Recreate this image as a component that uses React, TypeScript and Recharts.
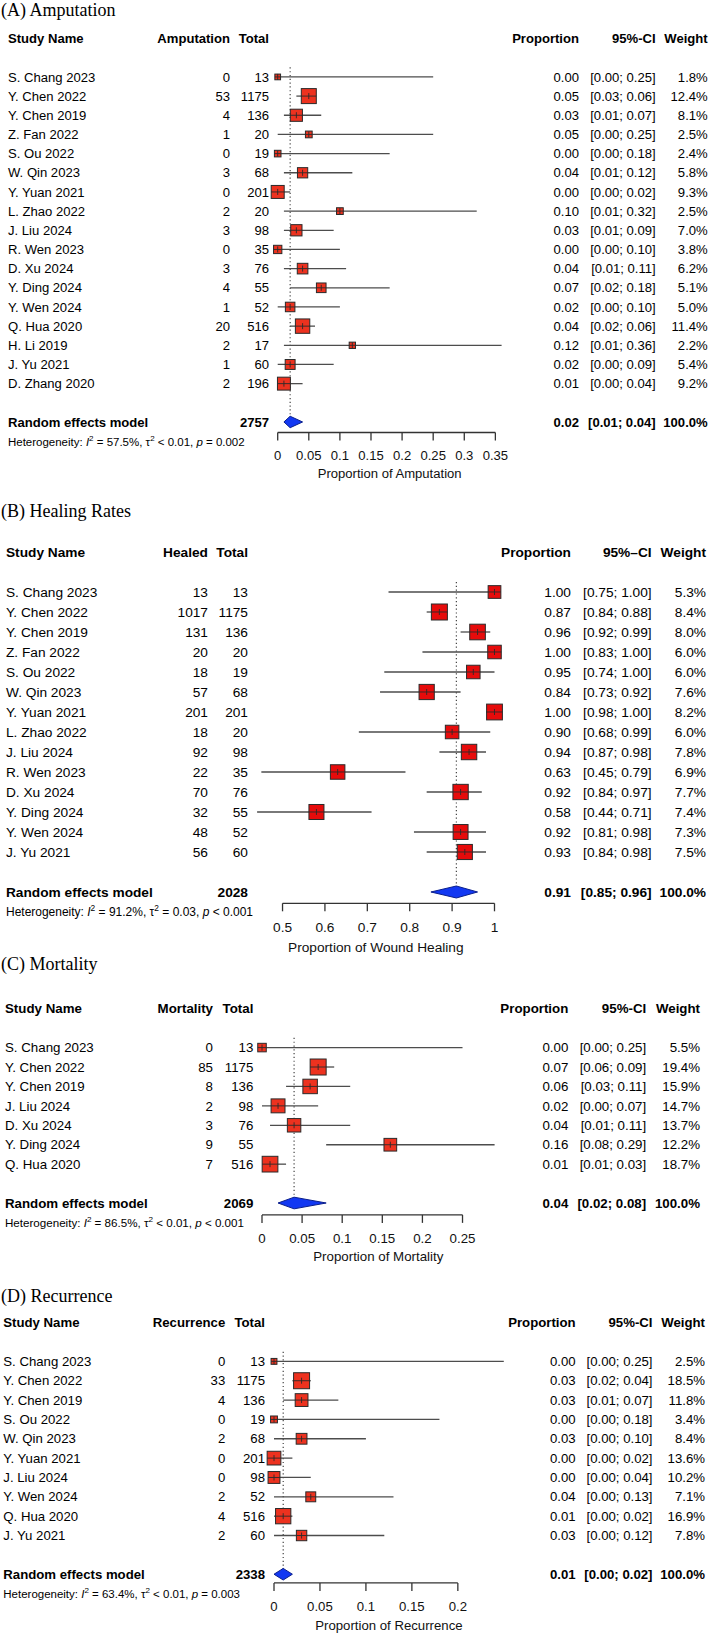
import React from "react";
import { ScatterChart, Scatter, XAxis, YAxis, ErrorBar, ReferenceLine } from "recharts";

const SANS = '"Liberation Sans", Arial, Helvetica, sans-serif';
const SERIF = '"Liberation Serif", "Times New Roman", serif';

// ---- (A) Amputation ----
const ampStudies = [
  "S. Chang 2023", "Y. Chen 2022", "Y. Chen 2019", "Z. Fan 2022", "S. Ou 2022",
  "W. Qin 2023", "Y. Yuan 2021", "L. Zhao 2022", "J. Liu 2024", "R. Wen 2023",
  "D. Xu 2024", "Y. Ding 2024", "Y. Wen 2024", "Q. Hua 2020", "H. Li 2019",
  "J. Yu 2021", "D. Zhang 2020",
];
const ampEvents = [0, 53, 4, 1, 0, 3, 0, 2, 3, 0, 3, 4, 1, 20, 2, 1, 2];
const ampTotals = [13, 1175, 136, 20, 19, 68, 201, 20, 98, 35, 76, 55, 52, 516, 17, 60, 196];
const ampProp = [0.0, 0.05, 0.03, 0.05, 0.0, 0.04, 0.0, 0.1, 0.03, 0.0, 0.04, 0.07, 0.02, 0.04, 0.12, 0.02, 0.01];
const ampLo = [0.0, 0.03, 0.01, 0.0, 0.0, 0.01, 0.0, 0.01, 0.01, 0.0, 0.01, 0.02, 0.0, 0.02, 0.01, 0.0, 0.0];
const ampHi = [0.25, 0.06, 0.07, 0.25, 0.18, 0.12, 0.02, 0.32, 0.09, 0.1, 0.11, 0.18, 0.1, 0.06, 0.36, 0.09, 0.04];
const ampWeight = [1.8, 12.4, 8.1, 2.5, 2.4, 5.8, 9.3, 2.5, 7.0, 3.8, 6.2, 5.1, 5.0, 11.4, 2.2, 5.4, 9.2];
const ampPooled = [0.02, 0.01, 0.04];
const ampTotal = 2757;
const ampHet = ["57.5%", "< 0.01", "= 0.002"];
const ampTicks = [0, 0.05, 0.1, 0.15, 0.2, 0.25, 0.3, 0.35];

// ---- (B) Healing Rates ----
const healStudies = [
  "S. Chang 2023", "Y. Chen 2022", "Y. Chen 2019", "Z. Fan 2022", "S. Ou 2022",
  "W. Qin 2023", "Y. Yuan 2021", "L. Zhao 2022", "J. Liu 2024", "R. Wen 2023",
  "D. Xu 2024", "Y. Ding 2024", "Y. Wen 2024", "J. Yu 2021",
];
const healEvents = [13, 1017, 131, 20, 18, 57, 201, 18, 92, 22, 70, 32, 48, 56];
const healTotals = [13, 1175, 136, 20, 19, 68, 201, 20, 98, 35, 76, 55, 52, 60];
const healProp = [1.0, 0.87, 0.96, 1.0, 0.95, 0.84, 1.0, 0.9, 0.94, 0.63, 0.92, 0.58, 0.92, 0.93];
const healLo = [0.75, 0.84, 0.92, 0.83, 0.74, 0.73, 0.98, 0.68, 0.87, 0.45, 0.84, 0.44, 0.81, 0.84];
const healHi = [1.0, 0.88, 0.99, 1.0, 1.0, 0.92, 1.0, 0.99, 0.98, 0.79, 0.97, 0.71, 0.98, 0.98];
const healWeight = [5.3, 8.4, 8.0, 6.0, 6.0, 7.6, 8.2, 6.0, 7.8, 6.9, 7.7, 7.4, 7.3, 7.5];
const healPooled = [0.91, 0.85, 0.96];
const healTotal = 2028;
const healHet = ["91.2%", "= 0.03", "< 0.001"];
const healTicks = [0.5, 0.6, 0.7, 0.8, 0.9, 1];

// ---- (C) Mortality ----
const mortStudies = ["S. Chang 2023", "Y. Chen 2022", "Y. Chen 2019", "J. Liu 2024", "D. Xu 2024", "Y. Ding 2024", "Q. Hua 2020"];
const mortEvents = [0, 85, 8, 2, 3, 9, 7];
const mortTotals = [13, 1175, 136, 98, 76, 55, 516];
const mortProp = [0.0, 0.07, 0.06, 0.02, 0.04, 0.16, 0.01];
const mortLo = [0.0, 0.06, 0.03, 0.0, 0.01, 0.08, 0.01];
const mortHi = [0.25, 0.09, 0.11, 0.07, 0.11, 0.29, 0.03];
const mortWeight = [5.5, 19.4, 15.9, 14.7, 13.7, 12.2, 18.7];
const mortPooled = [0.04, 0.02, 0.08];
const mortTotal = 2069;
const mortHet = ["86.5%", "< 0.01", "< 0.001"];
const mortTicks = [0, 0.05, 0.1, 0.15, 0.2, 0.25];

// ---- (D) Recurrence ----
const recStudies = [
  "S. Chang 2023", "Y. Chen 2022", "Y. Chen 2019", "S. Ou 2022", "W. Qin 2023",
  "Y. Yuan 2021", "J. Liu 2024", "Y. Wen 2024", "Q. Hua 2020", "J. Yu 2021",
];
const recEvents = [0, 33, 4, 0, 2, 0, 0, 2, 4, 2];
const recTotals = [13, 1175, 136, 19, 68, 201, 98, 52, 516, 60];
const recProp = [0.0, 0.03, 0.03, 0.0, 0.03, 0.0, 0.0, 0.04, 0.01, 0.03];
const recLo = [0.0, 0.02, 0.01, 0.0, 0.0, 0.0, 0.0, 0.0, 0.0, 0.0];
const recHi = [0.25, 0.04, 0.07, 0.18, 0.1, 0.02, 0.04, 0.13, 0.02, 0.12];
const recWeight = [2.5, 18.5, 11.8, 3.4, 8.4, 13.6, 10.2, 7.1, 16.9, 7.8];
const recPooled = [0.01, 0.0, 0.02];
const recTotal = 2338;
const recHet = ["63.4%", "< 0.01", "= 0.003"];
const recTicks = [0, 0.05, 0.1, 0.15, 0.2];

type Layout = {
  titleTop: number;
  r0: number; // centre of the first study row
  step: number; // row pitch
  axisY: number;
  plotLeft: number;
  plotRight: number;
  font: number;
  hetFont: number;
  hetGap: number;
  tickMargin: number;
  titleOffset: number;
  maxSide: number;
  fill: string;
  cols: { name: number; ev: number; tot: number; prop: number; ci: number; wt: number };
};

type Panel = {
  title: string;
  evLabel: string;
  ciLabel: string;
  xTitle: string;
  xDomain: [number, number];
  xTicks: number[];
  studies: string[];
  events: number[];
  totals: number[];
  prop: number[];
  lo: number[];
  hi: number[];
  weight: number[];
  pooled: number[];
  total: number;
  het: string[];
  lay: Layout;
};

const panels: Panel[] = [
  {
    title: "(A) Amputation", evLabel: "Amputation", ciLabel: "95%-CI", xTitle: "Proportion of Amputation",
    xDomain: [0, 0.36], xTicks: ampTicks,
    studies: ampStudies, events: ampEvents, totals: ampTotals, prop: ampProp, lo: ampLo, hi: ampHi,
    weight: ampWeight, pooled: ampPooled, total: ampTotal, het: ampHet,
    lay: {
      titleTop: 0.6, r0: 76.7, step: 19.17, axisY: 432.3, plotLeft: 277.7, plotRight: 501.6,
      font: 13.1, hetFont: 11.5, hetGap: 20, tickMargin: 10.1, titleOffset: 10.6, maxSide: 15, fill: "#ED321F",
      cols: { name: 8, ev: 230, tot: 269, prop: 579, ci: 655.7, wt: 707.7 },
    },
  },
  {
    title: "(B) Healing Rates", evLabel: "Healed", ciLabel: "95%\u2013CI", xTitle: "Proportion of Wound Healing",
    xDomain: [0.44, 1], xTicks: healTicks,
    studies: healStudies, events: healEvents, totals: healTotals, prop: healProp, lo: healLo, hi: healHi,
    weight: healWeight, pooled: healPooled, total: healTotal, het: healHet,
    lay: {
      titleTop: 502.4, r0: 591.7, step: 20, axisY: 903, plotLeft: 257.1, plotRight: 494.5,
      font: 13.7, hetFont: 12, hetGap: 19.5, tickMargin: 10.6, titleOffset: 7.4, maxSide: 16, fill: "#E60B0B",
      cols: { name: 6, ev: 208, tot: 248, prop: 571, ci: 651.6, wt: 706 },
    },
  },
  {
    title: "(C) Mortality", evLabel: "Mortality", ciLabel: "95%-CI", xTitle: "Proportion of Mortality",
    xDomain: [0, 0.29], xTicks: mortTicks,
    studies: mortStudies, events: mortEvents, totals: mortTotals, prop: mortProp, lo: mortLo, hi: mortHi,
    weight: mortWeight, pooled: mortPooled, total: mortTotal, het: mortHet,
    lay: {
      titleTop: 955, r0: 1047.7, step: 19.43, axisY: 1215, plotLeft: 262, plotRight: 494.6,
      font: 13.3, hetFont: 11.6, hetGap: 19.6, tickMargin: 10.3, titleOffset: 9.6, maxSide: 16, fill: "#ED321F",
      cols: { name: 5, ev: 213, tot: 253.4, prop: 568.3, ci: 646.2, wt: 700 },
    },
  },
  {
    title: "(D) Recurrence", evLabel: "Recurrence", ciLabel: "95%-CI", xTitle: "Proportion of Recurrence",
    xDomain: [0, 0.25], xTicks: recTicks,
    studies: recStudies, events: recEvents, totals: recTotals, prop: recProp, lo: recLo, hi: recHi,
    weight: recWeight, pooled: recPooled, total: recTotal, het: recHet,
    lay: {
      titleTop: 1287, r0: 1361.7, step: 19.35, axisY: 1583.3, plotLeft: 274, plotRight: 503.8,
      font: 13.2, hetFont: 11.5, hetGap: 20, tickMargin: 10.8, titleOffset: 9.2, maxSide: 16, fill: "#ED321F",
      cols: { name: 3.3, ev: 225.3, tot: 265, prop: 575.6, ci: 652.5, wt: 705 },
    },
  },
];

const AXIS_H = 56;
const WIDTH = 709;

const fmtCI = (lo: number, hi: number) => `[${lo.toFixed(2)}; ${hi.toFixed(2)}]`;

// Left y-axis tick: draws a whole table row (left and right columns) at the row's position
function RowTick(props: any) {
  const { y, payload, cfg } = props as { y: number; payload: { value: number }; cfg: Panel };
  const v = payload.value;
  const L = cfg.lay;
  const c = L.cols;
  const n = cfg.studies.length;
  const base = { fontFamily: SANS, fontSize: L.font, fill: "#000", dy: "0.35em" };

  if (v === -2) {
    return (
      <g>
        <text {...base} x={c.name} y={y} fontWeight="bold">Study Name</text>
        <text {...base} x={c.ev} y={y} fontWeight="bold" textAnchor="end">{cfg.evLabel}</text>
        <text {...base} x={c.tot} y={y} fontWeight="bold" textAnchor="end">Total</text>
        <text {...base} x={c.prop} y={y} fontWeight="bold" textAnchor="end">Proportion</text>
        <text {...base} x={c.ci} y={y} fontWeight="bold" textAnchor="end">{cfg.ciLabel}</text>
        <text {...base} x={c.wt} y={y} fontWeight="bold" textAnchor="end">Weight</text>
      </g>
    );
  }

  if (v === n + 1) {
    const [est, lo, hi] = cfg.pooled;
    const hf = L.hetFont;
    const sh = hf * 0.42;
    return (
      <g>
        <text {...base} x={c.name} y={y} fontWeight="bold">Random effects model</text>
        <text {...base} x={c.tot} y={y} fontWeight="bold" textAnchor="end">{cfg.total}</text>
        <text {...base} x={c.prop} y={y} fontWeight="bold" textAnchor="end">{est.toFixed(2)}</text>
        <text {...base} x={c.ci} y={y} fontWeight="bold" textAnchor="end">{fmtCI(lo, hi)}</text>
        <text {...base} x={c.wt} y={y} fontWeight="bold" textAnchor="end">100.0%</text>
        <text x={c.name} y={y + L.hetGap} dy="0.35em" fontFamily={SANS} fontSize={hf} fill="#000" style={{ whiteSpace: "pre" }}>
          <tspan>Heterogeneity: </tspan>
          <tspan fontStyle="italic">I</tspan>
          <tspan dy={-sh} fontSize={hf * 0.7}>2</tspan>
          <tspan dy={sh}>{` = ${cfg.het[0]}, \u03c4`}</tspan>
          <tspan dy={-sh} fontSize={hf * 0.7}>2</tspan>
          <tspan dy={sh}>{` ${cfg.het[1]}, `}</tspan>
          <tspan fontStyle="italic">p</tspan>
          <tspan>{` ${cfg.het[2]}`}</tspan>
        </text>
      </g>
    );
  }

  const i = v;
  if (i < 0 || i >= n) return <g />;
  return (
    <g>
      <text {...base} x={c.name} y={y}>{cfg.studies[i]}</text>
      <text {...base} x={c.ev} y={y} textAnchor="end">{cfg.events[i]}</text>
      <text {...base} x={c.tot} y={y} textAnchor="end">{cfg.totals[i]}</text>
      <text {...base} x={c.prop} y={y} textAnchor="end">{cfg.prop[i].toFixed(2)}</text>
      <text {...base} x={c.ci} y={y} textAnchor="end">{fmtCI(cfg.lo[i], cfg.hi[i])}</text>
      <text {...base} x={c.wt} y={y} textAnchor="end">{`${cfg.weight[i].toFixed(1)}%`}</text>
    </g>
  );
}

function ForestPanel({ cfg }: { cfg: Panel }) {
  const L = cfg.lay;
  const n = cfg.studies.length;
  const sumRow = n + 1;
  const yMax = (L.axisY - L.r0) / L.step;
  const top = L.r0 - 2.5 * L.step;
  const height = L.axisY - top + AXIS_H;
  const wMax = Math.max(...cfg.weight);

  const rows = cfg.studies.map((_, i) => ({
    row: i,
    p: cfg.prop[i],
    err: [cfg.prop[i] - cfg.lo[i], cfg.hi[i] - cfg.prop[i]],
    w: cfg.weight[i],
  }));
  const [est, plo, phi] = cfg.pooled;
  const diamond = [
    { row: sumRow, p: plo },
    { row: sumRow - 0.3, p: est },
    { row: sumRow, p: phi },
    { row: sumRow + 0.3, p: est },
  ];
  const yTicks = [-2, ...cfg.studies.map((_, i) => i), sumRow];

  const square = (props: any) => {
    const { cx, cy, payload } = props;
    const s = L.maxSide * Math.sqrt(payload.w / wMax);
    return (
      <g>
        <rect x={cx - s / 2} y={cy - s / 2} width={s} height={s} fill={L.fill} stroke="#2a2a2a" strokeWidth={1} />
        <line x1={cx - s / 2} x2={cx + s / 2} y1={cy} y2={cy} stroke="#2a2a2a" strokeWidth={0.9} />
        <line x1={cx} x2={cx} y1={cy - 3} y2={cy + 3} stroke="#2a2a2a" strokeWidth={0.9} />
      </g>
    );
  };

  const first = cfg.xTicks[0];
  const last = cfg.xTicks[cfg.xTicks.length - 1];

  return (
    <>
      <div
        style={{
          position: "absolute", left: 1, top: L.titleTop, fontFamily: SERIF, fontSize: 18,
          lineHeight: "18px", whiteSpace: "nowrap", color: "#000",
        }}
      >
        {cfg.title}
      </div>
      <div style={{ position: "absolute", left: 0, top }}>
        <ScatterChart
          width={WIDTH}
          height={height}
          margin={{ top: 0, right: WIDTH - L.plotRight, left: 0, bottom: 0 }}
        >
          <XAxis
            type="number"
            dataKey="p"
            domain={cfg.xDomain}
            ticks={cfg.xTicks}
            interval={0}
            axisLine={false}
            tickLine={{ stroke: "#333", strokeWidth: 1.3 }}
            tickSize={8}
            tickMargin={L.tickMargin}
            tick={{ fontSize: L.font, fontFamily: SANS, fill: "#111" }}
            height={AXIS_H}
            label={{
              value: cfg.xTitle, position: "insideBottom", offset: L.titleOffset,
              fontSize: L.font, fontFamily: SANS, fill: "#111",
            }}
          />
          <YAxis
            type="number"
            dataKey="row"
            domain={[-2.5, yMax]}
            reversed
            ticks={yTicks}
            interval={0}
            axisLine={false}
            tickLine={false}
            width={L.plotLeft}
            tick={(p: any) => <RowTick {...p} cfg={cfg} />}
          />
          <ReferenceLine
            segment={[{ x: est, y: -0.5 }, { x: est, y: sumRow }]}
            stroke="#333"
            strokeWidth={1.1}
            strokeDasharray="1.2 2.6"
            ifOverflow="visible"
          />
          <ReferenceLine
            segment={[{ x: first, y: yMax }, { x: last, y: yMax }]}
            stroke="#333"
            strokeWidth={1.3}
            ifOverflow="visible"
          />
          <Scatter data={rows} shape={square} isAnimationActive={false}>
            <ErrorBar dataKey="err" direction="x" width={0} stroke="#4d4d4d" strokeWidth={1.3} isAnimationActive={false} />
          </Scatter>
          <Scatter
            data={diamond}
            shape={() => <g />}
            line={{ fill: "#1238F2", stroke: "#0a1e8c", strokeWidth: 1 }}
            lineType="joint"
            lineJointType="linearClosed"
            isAnimationActive={false}
          />
        </ScatterChart>
      </div>
    </>
  );
}

export default function App() {
  return (
    <div
      style={{
        position: "absolute", left: 0, top: 0, width: WIDTH, height: 1635,
        overflow: "hidden", background: "#fff", fontFamily: SANS,
      }}
    >
      {panels.map((cfg) => (
        <ForestPanel key={cfg.title} cfg={cfg} />
      ))}
    </div>
  );
}
